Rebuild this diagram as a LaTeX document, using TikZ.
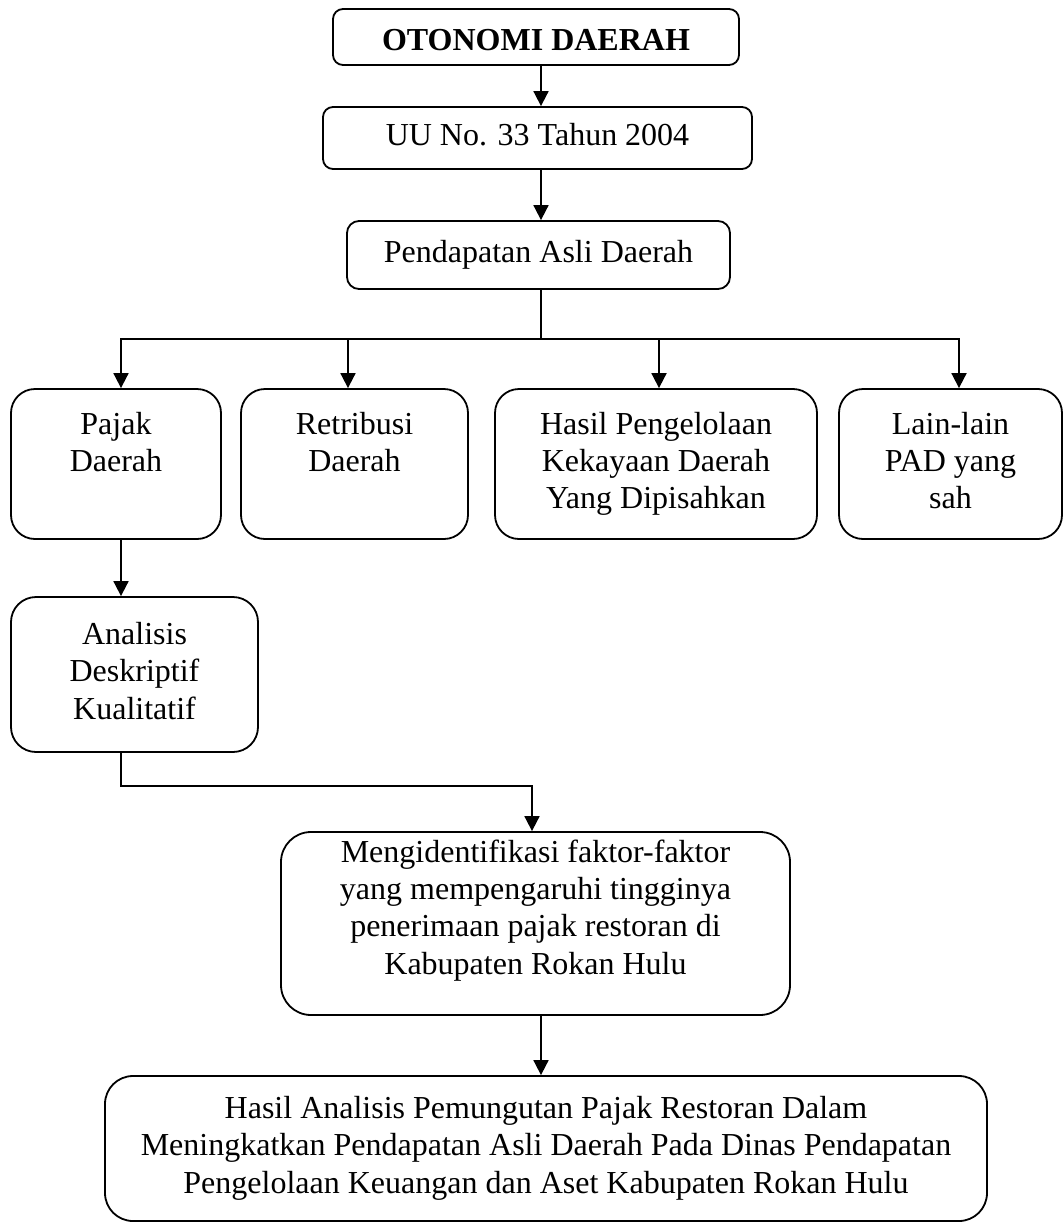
\documentclass[tikz,border=0pt]{standalone}
\usepackage{fontspec}
\setmainfont{Liberation Serif}
\usetikzlibrary{arrows.meta}
\tikzset{
  fbox/.style={draw, line width=1.8pt, align=center, inner sep=0pt,
    font=\fontsize{32}{37.3}\selectfont},
  conn/.style={line width=1.8pt},
  arr/.style={conn, -{Triangle[length=15pt,width=15pt]}},
}
\begin{document}
\begin{tikzpicture}[x=1pt,y=-1pt]
\useasboundingbox (0,0) rectangle (1064,1223);

\node[fbox, minimum width=406pt, minimum height=56pt, rounded corners=10pt] (oto) at (536,37)
  {\bfseries\rule{0pt}{39pt}\strut OTONOMI DAERAH};
\node[fbox, minimum width=429pt, minimum height=62pt, rounded corners=10pt] (uu) at (537.5,138)
  {\strut UU No. 33 Tahun 2004};
\node[fbox, minimum width=383pt, minimum height=68pt, rounded corners=12pt] (pad) at (538.5,255)
  {\strut Pendapatan Asli Daerah};

\node[fbox, minimum width=210pt, minimum height=150pt, rounded corners=24pt] (pajak) at (116,464)
  {\strut Pajak\\\strut Daerah\\\strut};
\node[fbox, minimum width=227pt, minimum height=150pt, rounded corners=24pt] (retri) at (354.5,464)
  {\strut Retribusi\\\strut Daerah\\\strut};
\node[fbox, minimum width=322pt, minimum height=150pt, rounded corners=24pt] (hasil) at (656,464)
  {\strut Hasil Pengelolaan\\\strut Kekayaan Daerah\\\strut Yang Dipisahkan};
\node[fbox, minimum width=223pt, minimum height=150pt, rounded corners=24pt] (lain) at (950.5,464)
  {\strut Lain-lain\\\strut PAD yang\\\strut sah};

\node[fbox, minimum width=247pt, minimum height=155pt, rounded corners=25pt] (anal) at (134.5,674.5)
  {\strut Analisis\\\strut Deskriptif\\\strut Kualitatif};

\node[fbox, minimum width=509pt, minimum height=183pt, rounded corners=30pt] (ident) at (535.5,923.5)
  {\strut Mengidentifikasi faktor-faktor\\\strut yang mempengaruhi tingginya\\\strut penerimaan pajak restoran di\\\strut Kabupaten Rokan Hulu\rule[-37pt]{0pt}{37pt}};

\node[fbox, minimum width=882pt, minimum height=145pt, rounded corners=28pt] (final) at (546,1148.5)
  {\strut Hasil Analisis Pemungutan Pajak Restoran Dalam\\\strut Meningkatkan Pendapatan Asli Daerah Pada Dinas Pendapatan\\\strut Pengelolaan Keuangan dan Aset Kabupaten Rokan Hulu};

% connectors
\draw[arr] ([xshift=5pt]oto.south) -- ([xshift=3.5pt]uu.north);
\draw[arr] ([xshift=3.5pt]uu.south) -- ([xshift=2.5pt]pad.north);
\coordinate (bus) at (541,339);
\draw[conn] ([xshift=2.5pt]pad.south) -- (bus);
\draw[arr] (bus) -| ([xshift=5pt]pajak.north);
\draw[arr] (bus) -| ([xshift=-6.5pt]retri.north);
\draw[arr] (bus) -| ([xshift=3pt]hasil.north);
\draw[arr] (bus) -| ([xshift=8.5pt]lain.north);
\draw[arr] ([xshift=5pt]pajak.south) -- ([xshift=-13.5pt]anal.north);
\draw[arr] ([xshift=-13.5pt]anal.south) -- ++(0,33) -| ([xshift=-3.5pt]ident.north);
\draw[arr] ([xshift=5.5pt]ident.south) -- ([xshift=-5pt]final.north);
\end{tikzpicture}
\end{document}
